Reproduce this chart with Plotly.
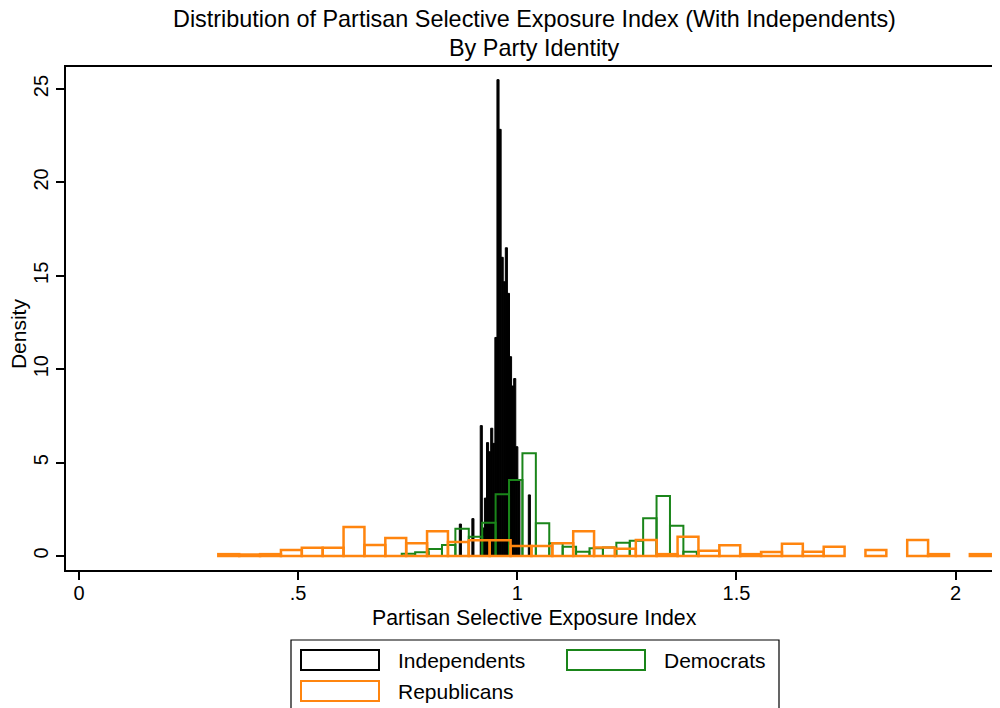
import numpy as np
import plotly.graph_objects as go

# histogram bins (density per bin, bin start and bin width)
ind_start = 0.8677
ind_width = 0.00477
ind_density = [1.71, 0, 0, 0, 0, 0, 2.0, 0, 0, 0,
               6.98, 1.5, 3.1, 6.07, 5.58, 6.84, 6.03, 11.7, 25.5, 22.84,
               15.99, 14.68, 16.5, 14.06, 10.67, 9.1, 9.5, 5.85, 4.07, 0,
               0, 0, 0, 3.27]

dem_start = 0.7363
dem_width = 0.0306
dem_density = [0.12, 0.2, 0.37, 0.59, 1.46, 1.03, 1.78, 3.3, 4.07, 5.5,
               1.75, 0.68, 0.5, 0.23, 0.41, 0.45, 0.71, 0.82, 2.02, 3.21,
               1.62, 0.23]

rep_start = 0.3178
rep_width = 0.04763
rep_density = [0.1, 0.08, 0.1, 0.32, 0.44, 0.44, 1.55, 0.59, 0.96, 0.68,
               1.32, 0.75, 0.84, 0.84, 0.53, 0.53, 0.68, 1.32, 0.46, 0.39,
               0.86, 0.1, 1.03, 0.28, 0.57, 0.1, 0.21, 0.66, 0.23, 0.5,
               None, 0.32, None, 0.86, 0.1, None, 0.1]

x_ticks = [0, 0.5, 1, 1.5, 2]
x_ticktext = ['0', '.5', '1', '1.5', '2']
y_ticks = [0, 5, 10, 15, 20, 25]

BLACK = 'black'
GREEN = 'rgb(26,133,26)'
ORANGE = 'rgb(255,133,15)'
FONT = 'Liberation Sans, Arial, sans-serif'


def centers(start, width, vals):
    return start + width * (np.arange(len(vals)) + 0.5)


fig = go.Figure()
fig.add_trace(go.Bar(name='Independents', x=centers(ind_start, ind_width, ind_density),
                     y=ind_density, width=ind_width,
                     marker=dict(color=BLACK, line=dict(color=BLACK, width=1))))
fig.add_trace(go.Bar(name='Democrats', x=centers(dem_start, dem_width, dem_density),
                     y=dem_density, width=dem_width,
                     marker=dict(color='rgba(0,0,0,0)', line=dict(color=GREEN, width=2))))
fig.add_trace(go.Bar(name='Republicans', x=centers(rep_start, rep_width, rep_density),
                     y=rep_density, width=rep_width,
                     marker=dict(color='rgba(0,0,0,0)', line=dict(color=ORANGE, width=2.5))))

# page body has an 8px margin, so margins are shifted by 8 to land the plot area
# at x 66..1000, y 67..570 of the window
fig.update_layout(
    width=1000, height=708,
    margin=dict(l=58, r=8, t=59, b=146),
    paper_bgcolor='white', plot_bgcolor='white',
    barmode='overlay', showlegend=False,
    font=dict(family=FONT, color='black', size=20),
)
fig.update_xaxes(range=[-0.0297, 2.1013], tickvals=x_ticks, ticktext=x_ticktext,
                 showline=True, linecolor='black', linewidth=1.8, mirror=True,
                 ticks='outside', ticklen=8, tickwidth=1.5, tickcolor='black',
                 showgrid=False, zeroline=False, tickfont=dict(size=20),
                 ticklabelstandoff=-4)
fig.update_yaxes(range=[-0.7495, 26.178], tickvals=y_ticks,
                 showline=True, linecolor='black', linewidth=1.8,
                 ticks='outside', ticklen=8, tickwidth=1.5, tickcolor='black',
                 showgrid=False, zeroline=False, tickangle=-90, tickfont=dict(size=20))

# titles
ann = [
    dict(text='Distribution of Partisan Selective Exposure Index (With Independents)',
         x=0.502, y=1.0954, font=dict(size=23.4)),
    dict(text='By Party Identity', x=0.502, y=1.0378, font=dict(size=23.4)),
    dict(text='Partisan Selective Exposure Index', x=0.502, y=-0.0954, font=dict(size=21.3)),
    dict(text='Density', x=-0.0514, y=0.471, textangle=-90, font=dict(size=21)),
]
for a in ann:
    fig.add_annotation(xref='paper', yref='paper', showarrow=False,
                       xanchor='center', yanchor='middle', **a)


# legend box drawn by hand (Stata style); pixel positions converted to paper coords
def px_x(p):
    return (p - 66) / 934


def px_y(p):
    return (570 - p) / 503


fig.add_shape(type='rect', xref='paper', yref='paper',
              x0=px_x(291), x1=px_x(779), y0=px_y(720), y1=px_y(640),
              line=dict(color='black', width=1.2), fillcolor='white')
legend_items = [('Independents', BLACK, 301, 660), ('Democrats', GREEN, 567, 660),
                ('Republicans', ORANGE, 301, 691)]
for label, col, lx, ly in legend_items:
    fig.add_shape(type='rect', xref='paper', yref='paper',
                  x0=px_x(lx), x1=px_x(lx + 78), y0=px_y(ly + 10), y1=px_y(ly - 10),
                  line=dict(color=col, width=2))
    fig.add_annotation(xref='paper', yref='paper', showarrow=False, text=label,
                       x=px_x(lx + 95), y=px_y(ly), xanchor='left', yanchor='middle',
                       font=dict(size=21))

fig.write_html('out.html')
